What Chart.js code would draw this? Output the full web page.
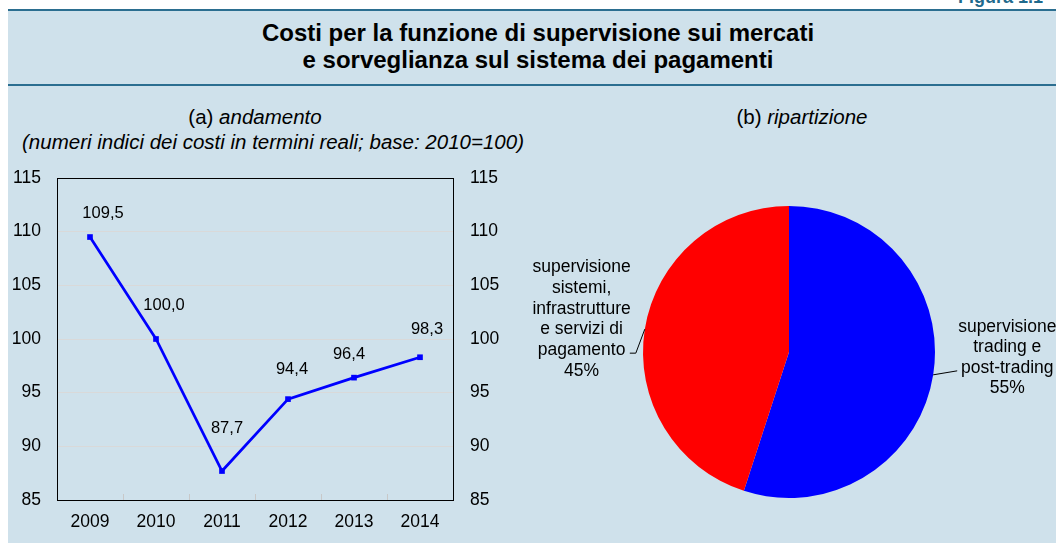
<!DOCTYPE html>
<html>
<head>
<meta charset="utf-8">
<script src="https://cdn.jsdelivr.net/npm/chart.js@4.4.1/dist/chart.umd.min.js"></script>
<style>
  body { margin: 0; width: 1056px; height: 543px; overflow: hidden; position: relative; background: #fff;
         font-family: 'Liberation Sans', Arial, Helvetica, sans-serif; }
  #panel { position: absolute; left: 8px; top: 10px; right: 0; bottom: 0; background: #cfe1eb; }
  .rule { position: absolute; left: 8px; right: 0; height: 2px; background: #2b6e90; }
  #figura { position: absolute; left: 958px; top: -13px; font-weight: bold; font-size: 18px; color: #1f6a8d; white-space: nowrap; }
  #title { position: absolute; left: 0; width: 1076px; top: 19px; text-align: center; font-weight: bold; font-size: 24px; line-height: 27px; color: #000; }
  .sub { position: absolute; text-align: center; font-size: 20.5px; color: #000; white-space: nowrap; }
  canvas { position: absolute; }
</style>
</head>
<body>
<div id="panel"></div>
<div class="rule" style="top:9px"></div>
<div class="rule" style="top:84px"></div>
<div id="figura">Figura 1.1</div>
<div id="title">Costi per la funzione di supervisione sui mercati<br>e sorveglianza sul sistema dei pagamenti</div>
<div class="sub" style="left:0; width:510px; top:105px;">(a) <i>andamento</i></div>
<div class="sub" style="left:0; width:546px; top:130px;"><i>(numeri indici dei costi in termini reali; base: 2010=100)</i></div>
<div class="sub" style="left:560px; width:484px; top:105px;">(b) <i>ripartizione</i></div>

<canvas id="lineChart" width="520" height="383" style="left:0; top:160px;"></canvas>
<canvas id="pieChart" width="536" height="330" style="left:520px; top:190px;"></canvas>

<script>
// data
const years = ['2009', '2010', '2011', '2012', '2013', '2014'];
const costIndex = [109.5, 100.0, 87.7, 94.4, 96.4, 98.3];
const yTicks = [85, 90, 95, 100, 105, 110, 115];

const sliceLabels = [
    ['supervisione', 'trading e', 'post-trading'],
    ['supervisione', 'sistemi,', 'infrastrutture', 'e servizi di', 'pagamento']
];
const sliceShares = [55, 45];
const sliceColors = ['#0000ff', '#ff0000'];

Chart.defaults.font.family = "'Liberation Sans', Arial, Helvetica, sans-serif";
Chart.defaults.color = '#000';

// label nudges (style only): offset of each value label from its point
const valueLabelNudge = [[13, -24], [8, -34], [5, -43], [4, -30], [-5, -23], [7, -28]];

const itNum = v => v.toFixed(1).replace('.', ',');

// plot frame, small x ticks and value labels
const lineDecor = {
    id: 'lineDecor',
    afterDraw(chart) {
        const { ctx, chartArea: a } = chart;
        const xs = chart.scales.x;
        ctx.save();
        // small tick marks between categories
        ctx.strokeStyle = '#c8c8c8';
        ctx.lineWidth = 1;
        for (let i = 1; i < years.length; i++) {
            const px = Math.round((xs.getPixelForValue(i - 1) + xs.getPixelForValue(i)) / 2) + 0.5;
            ctx.beginPath();
            ctx.moveTo(px, a.bottom);
            ctx.lineTo(px, a.bottom - 6);
            ctx.stroke();
        }
        ctx.strokeStyle = '#000';
        ctx.strokeRect(Math.round(a.left) + 0.5, Math.round(a.top) + 0.5,
            Math.round(a.right - a.left), Math.round(a.bottom - a.top));

        // value labels
        const meta = chart.getDatasetMeta(0);
        ctx.font = "16.5px 'Liberation Sans', Arial, sans-serif";
        ctx.fillStyle = '#000';
        ctx.textAlign = 'center';
        ctx.textBaseline = 'middle';
        meta.data.forEach((pt, i) => {
            const n = valueLabelNudge[i];
            ctx.fillText(itNum(costIndex[i]), pt.x + n[0], pt.y + n[1]);
        });
        ctx.restore();
    }
};

function fixAxis(width) {
    return s => {
        s.width = width;
        s.paddingTop = 0;
        s.paddingBottom = 0;
    };
}

new Chart(document.getElementById('lineChart'), {
    type: 'line',
    data: {
        labels: years,
        datasets: [{
            data: costIndex,
            borderColor: '#0000ff',
            backgroundColor: '#0000ff',
            borderWidth: 2.7,
            pointStyle: 'rect',
            pointRadius: 4,
            pointBorderWidth: 0,
            tension: 0
        }]
    },
    options: {
        responsive: false,
        animation: false,
        layout: { padding: { top: 18, left: 0, right: 0, bottom: 0 } },
        plugins: { legend: { display: false }, tooltip: { enabled: false } },
        scales: {
            x: {
                offset: true,
                grid: { display: false, drawTicks: false },
                border: { display: false },
                ticks: { font: { size: 17.5 }, padding: 12, maxRotation: 0 },
                afterFit(s) { s.height = 43; s.paddingLeft = 0; s.paddingRight = 0; }
            },
            y: {
                position: 'left',
                min: yTicks[0],
                max: yTicks[yTicks.length - 1],
                afterBuildTicks(s) { s.ticks = yTicks.map(v => ({ value: v })); },
                grid: { color: '#d9d9d9', drawTicks: false },
                border: { display: false },
                ticks: { font: { size: 17.5 }, padding: 16 },
                afterFit: fixAxis(57)
            },
            y2: {
                position: 'right',
                min: yTicks[0],
                max: yTicks[yTicks.length - 1],
                afterBuildTicks(s) { s.ticks = yTicks.map(v => ({ value: v })); },
                grid: { display: false, drawTicks: false },
                border: { display: false },
                ticks: { font: { size: 17.5 }, padding: 17 },
                afterFit: fixAxis(67)
            }
        }
    },
    plugins: [lineDecor]
});

// pie labels: distance from centre, vertical nudge, leader line points (relative to arc edge)
const pieLabelStyle = [
    { dist: 221, dy: -29, lh: 20.4, leader: [[24, -4]] },
    { dist: 210, dy: 0, lh: 20.8, leader: [[-9, 24], [-15, 24]] }
];

const pieLabels = {
    id: 'pieLabels',
    afterDatasetsDraw(chart) {
        const ctx = chart.ctx;
        const total = sliceShares.reduce((s, v) => s + v, 0);
        ctx.save();
        ctx.font = "17.5px 'Liberation Sans', Arial, sans-serif";
        ctx.fillStyle = '#000';
        ctx.strokeStyle = '#000';
        ctx.lineWidth = 1;
        ctx.textAlign = 'center';
        ctx.textBaseline = 'middle';
        chart.getDatasetMeta(0).data.forEach((arc, i) => {
            const p = arc.getProps(['x', 'y', 'startAngle', 'endAngle', 'outerRadius'], true);
            const mid = (p.startAngle + p.endAngle) / 2;
            const st = pieLabelStyle[i];
            const ex = p.x + Math.cos(mid) * p.outerRadius;
            const ey = p.y + Math.sin(mid) * p.outerRadius;
            ctx.beginPath();
            ctx.moveTo(ex, ey);
            st.leader.forEach(q => ctx.lineTo(ex + q[0], ey + q[1]));
            ctx.stroke();

            const lines = sliceLabels[i].concat([Math.round(sliceShares[i] / total * 100) + '%']);
            const lx = p.x + Math.cos(mid) * st.dist;
            const ly = p.y + Math.sin(mid) * st.dist + st.dy;
            const top = ly - (lines.length - 1) * st.lh / 2;
            lines.forEach((t, k) => ctx.fillText(t, lx, top + k * st.lh));
        });
        ctx.restore();
    }
};

new Chart(document.getElementById('pieChart'), {
    type: 'pie',
    data: {
        labels: sliceLabels.map(l => l.join(' ')),
        datasets: [{
            data: sliceShares,
            backgroundColor: sliceColors,
            borderWidth: 0
        }]
    },
    options: {
        responsive: false,
        animation: false,
        layout: { padding: { top: 16, bottom: 22, left: 2, right: 0 } },
        plugins: { legend: { display: false }, tooltip: { enabled: false } }
    },
    plugins: [pieLabels]
});
</script>
</body>
</html>
